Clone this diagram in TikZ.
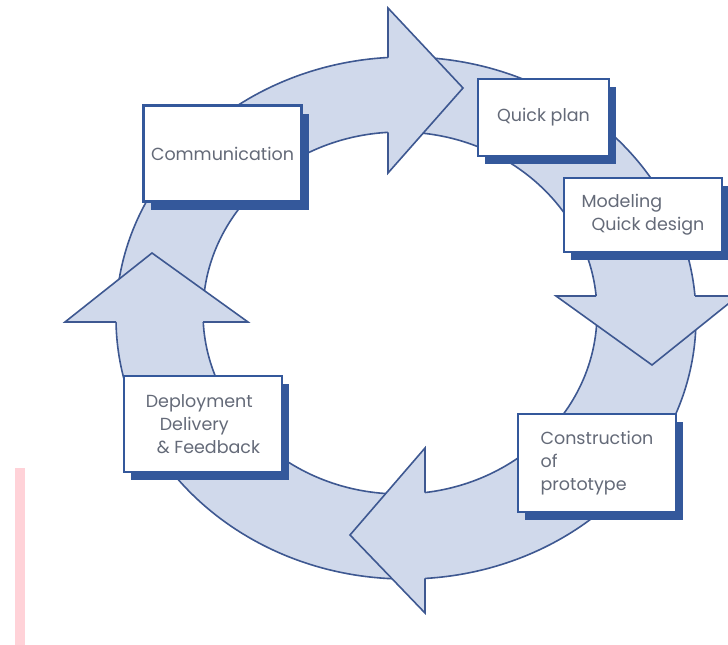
\documentclass[tikz,border=0pt]{standalone}
\usepackage{fontspec}
\setmainfont{Poppins}
\usetikzlibrary{shadows}
\definecolor{ringblue}{RGB}{208,217,235}
\definecolor{lineblue}{RGB}{62,88,145}
\definecolor{boxblue}{RGB}{52,88,155}
\definecolor{textgray}{RGB}{100,106,120}
\definecolor{notepink}{RGB}{255,210,216}

\begin{document}
\begin{tikzpicture}[x=1pt,y=-1pt,
  ring/.style={fill=ringblue,draw=lineblue,line width=1.6pt},
  stage/.style={draw=boxblue,line width=2.4pt,fill=white,text=textgray,
    font=\fontsize{17.5}{23}\selectfont,align=left,inner sep=0pt,
    drop shadow={shadow xshift=7pt,shadow yshift=-8pt,fill=boxblue,opacity=1}}]
\useasboundingbox (0,0) rectangle (728,645);
\clip (0,0) rectangle (728,645);

% the ring
\fill[ringblue,even odd rule] (406,318) ellipse [x radius=290,y radius=261]
  (400,313) ellipse [x radius=197,y radius=181];
\draw[lineblue,line width=1.6pt] (406,318) ellipse [x radius=290,y radius=261];
\draw[lineblue,line width=1.6pt] (400,313) ellipse [x radius=197,y radius=181];

% arrow heads
\filldraw[ring] (388,57.5) -- (388,8) -- (463,88) -- (388,173) -- (388,132.3);
\filldraw[ring] (695,296) -- (738,296) -- (652,365) -- (556,296) -- (596.1,296);
\filldraw[ring] (425,578.4) -- (425,613) -- (350,535) -- (425,448) -- (425,492.5);
\filldraw[ring] (116,322) -- (65,322) -- (152,253) -- (248,322) -- (203.2,322);

% stages
\node[stage,minimum width=158pt,minimum height=96pt] (comm) at (222.5,153.5) {Communication};
\node[stage,minimum width=131pt,minimum height=77pt] (plan) at (543.5,117.5) {Quick plan};
\node[stage,minimum width=158pt,minimum height=74pt] (model) at (643,215)
  {Modeling\\\hspace{10pt}Quick design};
\node[stage,minimum width=158pt,minimum height=98pt] (build) at (597,463)
  {Construction\\of\\prototype};
\node[stage,minimum width=158pt,minimum height=96pt] (deploy) at (203,424)
  {Deployment\\\hspace{14pt}Delivery\\\hspace{11pt}\& Feedback};

\fill[notepink] (15,468) rectangle (25,645);
\end{tikzpicture}
\end{document}
